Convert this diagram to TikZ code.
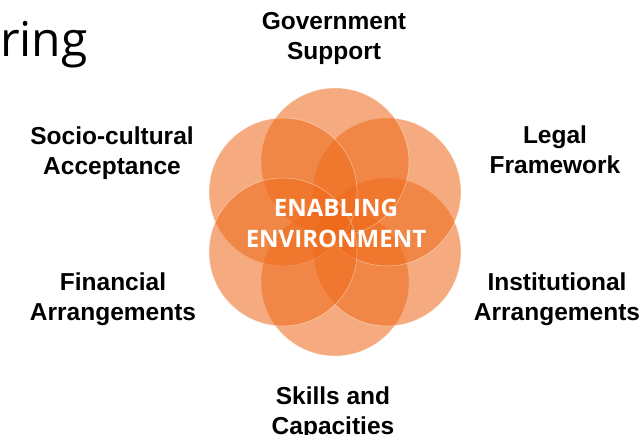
\documentclass[tikz,border=0pt]{standalone}
\usepackage{fontspec}
\usetikzlibrary{calc}
\setmainfont{Liberation Sans}
\newfontfamily\opensans{Open Sans}
\definecolor{petal}{HTML}{EE6A1A}
\begin{document}
\begin{tikzpicture}[x=1pt,y=-1pt,
  petalc/.style={fill=petal,fill opacity=0.56,draw=white,draw opacity=0.5,line width=0.5pt},
  lbl/.style={font=\fontsize{24.5}{30}\selectfont\bfseries,align=center,text=black,inner sep=0pt}]
\useasboundingbox (0,0) rectangle (641,435);
\coordinate (c) at (335,222);
\foreach \a [count=\i] in {90,30,-30,-90,-150,150}{
  \fill[petalc] ($(c)+(\a:60)$) circle (74pt);
}
\node[font=\opensans\fontsize{24}{31}\selectfont\bfseries,text=white,align=center,inner sep=0pt] (ctr) at (336,223) {ENABLING\\ENVIRONMENT};
\node[font=\opensans\fontsize{48}{50}\selectfont,anchor=base west,inner sep=0pt] (ring) at (0,57) {ring};
\node[lbl] (gov) at (334,38) {Government\\Support};
\node[lbl] (soc) at (112,153) {Socio-cultural\\Acceptance};
\node[lbl] (leg) at (555,150) {Legal\\Framework};
\node[lbl] (fin) at (113,299) {Financial\\Arrangements};
\node[lbl] (ins) at (557,299) {Institutional\\Arrangements};
\node[lbl] (ski) at (333,413) {Skills and\\Capacities};
\end{tikzpicture}
\end{document}
